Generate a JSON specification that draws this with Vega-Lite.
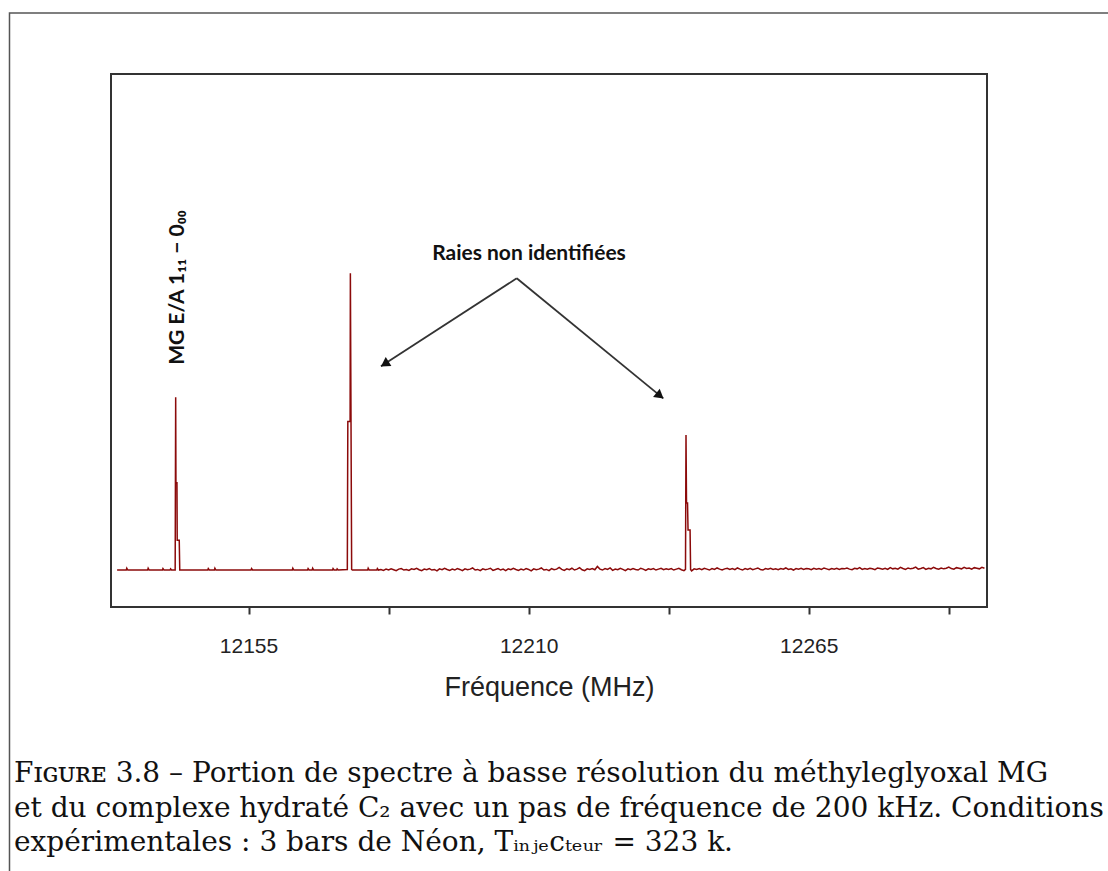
{
  "$schema": "https://vega.github.io/schema/vega-lite/v6.json",
  "width": 876,
  "height": 533,
  "autosize": {"type": "none"},
  "padding": {"left": 111, "top": 74, "right": 121, "bottom": 264},
  "background": "white",
  "config": {"view": {"stroke": "#333", "strokeWidth": 2}},
  "encoding": {
    "x": {
      "field": "f", "type": "quantitative",
      "scale": {"domain": [12128, 12300], "nice": false, "zero": false},
      "axis": {
        "values": [12155, 12182.5, 12210, 12237.5, 12265, 12292.5],
        "labelExpr": "datum.value % 55 === 0 ? format(datum.value, 'd') : ''",
        "domain": false,
        "grid": false,
        "tickSize": 7,
        "tickWidth": 2,
        "tickColor": "#333",
        "labelFont": "Liberation Sans",
        "labelFontSize": 21,
        "labelColor": "#222",
        "labelPadding": 21,
        "title": "Fréquence (MHz)",
        "titleFont": "Liberation Sans",
        "titleFontSize": 27,
        "titleFontWeight": "normal",
        "titleColor": "#222",
        "titlePadding": 18
      }
    },
    "y": {
      "field": "v", "type": "quantitative",
      "scale": {"domain": [-0.124, 1.664], "nice": false, "zero": false},
      "axis": null
    }
  },
  "layer": [
    {
      "data": {"values": [{"f": 12108.07, "f2": 12330, "v": 1.8687, "v2": -1.1}]},
      "mark": {"type": "rect", "fillOpacity": 0, "stroke": "#555", "strokeWidth": 1.5, "clip": false},
      "encoding": {
        "x2": {"field": "f2"},
        "y2": {"field": "v2"}
      }
    },
    {
      "data": {"values": [
      {"f": 12129.2, "v": 0}, {"f": 12131.0, "v": 0}, {"f": 12131.1, "v": 0.006}, {"f": 12131.3, "v": 0},
      {"f": 12135.2, "v": 0}, {"f": 12135.3, "v": 0.006}, {"f": 12135.5, "v": 0},
      {"f": 12138.1, "v": 0}, {"f": 12138.2, "v": 0.005}, {"f": 12138.4, "v": 0},
      {"f": 12139.6, "v": 0}, {"f": 12139.7, "v": 0.004}, {"f": 12139.9, "v": 0},
      {"f": 12140.6, "v": 0}, {"f": 12140.7, "v": 0.58}, {"f": 12140.75, "v": 0.293}, {"f": 12140.95, "v": 0.293},
      {"f": 12141.0, "v": 0.1}, {"f": 12141.4, "v": 0.1}, {"f": 12141.5, "v": 0},
      {"f": 12147.0, "v": 0}, {"f": 12147.1, "v": 0.005}, {"f": 12147.3, "v": 0},
      {"f": 12148.3, "v": 0}, {"f": 12148.4, "v": 0.006}, {"f": 12148.6, "v": 0},
      {"f": 12155.5, "v": 0}, {"f": 12155.6, "v": 0.005}, {"f": 12155.8, "v": 0},
      {"f": 12163.6, "v": 0}, {"f": 12163.7, "v": 0.006}, {"f": 12163.9, "v": 0},
      {"f": 12166.6, "v": 0}, {"f": 12166.7, "v": 0.005}, {"f": 12166.9, "v": 0},
      {"f": 12167.5, "v": 0}, {"f": 12167.6, "v": 0.006}, {"f": 12167.8, "v": 0},
      {"f": 12171.5, "v": 0}, {"f": 12171.6, "v": 0.005}, {"f": 12171.8, "v": 0},
      {"f": 12172.3, "v": 0}, {"f": 12172.4, "v": 0.004}, {"f": 12172.6, "v": 0},
      {"f": 12174.4, "v": 0.002}, {"f": 12174.5, "v": 0.498}, {"f": 12174.95, "v": 0.498}, {"f": 12175.0, "v": 0.996},
      {"f": 12175.25, "v": 0.002}, {"f": 12175.4, "v": 0},
      {"f": 12178.4, "v": 0}, {"f": 12178.5, "v": 0.006}, {"f": 12178.7, "v": 0},
      {"f": 12180.2, "v": 0}, {"f": 12180.3, "v": 0.005}, {"f": 12180.5, "v": 0},
      {"f": 12181.0, "v": 0.002}, {"f": 12181.5, "v": -0.001}, {"f": 12182.0, "v": 0.003}, {"f": 12182.5, "v": 0.0},
      {"f": 12183.0, "v": 0.004}, {"f": 12183.5, "v": 0.001}, {"f": 12184.0, "v": -0.002}, {"f": 12184.5, "v": 0.003},
      {"f": 12185.0, "v": 0.005}, {"f": 12185.5, "v": 0.0}, {"f": 12186.0, "v": 0.002}, {"f": 12186.5, "v": -0.001},
      {"f": 12187.0, "v": 0.004}, {"f": 12187.5, "v": 0.002}, {"f": 12188.0, "v": 0.006}, {"f": 12188.5, "v": 0.001},
      {"f": 12189.0, "v": -0.002}, {"f": 12189.5, "v": 0.003}, {"f": 12190.0, "v": 0.001}, {"f": 12190.5, "v": 0.005},
      {"f": 12191.0, "v": 0.0}, {"f": 12191.5, "v": 0.002}, {"f": 12192.0, "v": -0.003}, {"f": 12192.5, "v": 0.004},
      {"f": 12193.0, "v": 0.001}, {"f": 12193.5, "v": 0.006}, {"f": 12194.0, "v": 0.002}, {"f": 12194.5, "v": -0.001},
      {"f": 12195.0, "v": 0.003}, {"f": 12195.5, "v": 0.0}, {"f": 12196.0, "v": 0.005}, {"f": 12196.5, "v": 0.002},
      {"f": 12197.0, "v": -0.002}, {"f": 12197.5, "v": 0.004}, {"f": 12198.0, "v": 0.001}, {"f": 12198.5, "v": 0.003},
      {"f": 12199.0, "v": 0.007}, {"f": 12199.5, "v": 0.0}, {"f": 12200.0, "v": 0.002}, {"f": 12200.5, "v": -0.002},
      {"f": 12201.0, "v": 0.004}, {"f": 12201.5, "v": 0.001}, {"f": 12202.0, "v": 0.003}, {"f": 12202.5, "v": 0.006},
      {"f": 12203.0, "v": -0.001}, {"f": 12203.5, "v": 0.002}, {"f": 12204.0, "v": 0.005}, {"f": 12204.5, "v": 0.0},
      {"f": 12205.0, "v": 0.003}, {"f": 12205.5, "v": -0.002}, {"f": 12206.0, "v": 0.004}, {"f": 12206.5, "v": 0.001},
      {"f": 12207.0, "v": 0.006}, {"f": 12207.5, "v": 0.002}, {"f": 12208.0, "v": -0.001}, {"f": 12208.5, "v": 0.003},
      {"f": 12209.0, "v": 0.0}, {"f": 12209.5, "v": 0.005}, {"f": 12210.0, "v": 0.002}, {"f": 12210.5, "v": -0.003},
      {"f": 12211.0, "v": 0.004}, {"f": 12211.5, "v": 0.001}, {"f": 12212.0, "v": 0.003}, {"f": 12212.5, "v": 0.007},
      {"f": 12213.0, "v": 0.0}, {"f": 12213.5, "v": 0.002}, {"f": 12214.0, "v": -0.002}, {"f": 12214.5, "v": 0.005},
      {"f": 12215.0, "v": 0.001}, {"f": 12215.5, "v": 0.003}, {"f": 12216.0, "v": 0.009}, {"f": 12216.5, "v": 0.002},
      {"f": 12217.0, "v": -0.001}, {"f": 12217.5, "v": 0.004}, {"f": 12218.0, "v": 0.001}, {"f": 12218.5, "v": 0.006},
      {"f": 12219.0, "v": 0.0}, {"f": 12219.5, "v": 0.003}, {"f": 12220.0, "v": 0.008}, {"f": 12220.5, "v": 0.001},
      {"f": 12221.0, "v": -0.002}, {"f": 12221.5, "v": 0.004}, {"f": 12222.0, "v": 0.002}, {"f": 12222.5, "v": 0.005},
      {"f": 12223.0, "v": 0.001}, {"f": 12223.5, "v": 0.012}, {"f": 12224.0, "v": 0.003}, {"f": 12224.5, "v": 0.0},
      {"f": 12225.0, "v": 0.005}, {"f": 12225.5, "v": 0.002}, {"f": 12226.0, "v": 0.007}, {"f": 12226.5, "v": -0.001},
      {"f": 12227.0, "v": 0.003}, {"f": 12227.5, "v": 0.001}, {"f": 12228.0, "v": 0.006}, {"f": 12228.5, "v": 0.002},
      {"f": 12229.0, "v": -0.002}, {"f": 12229.5, "v": 0.004}, {"f": 12230.0, "v": 0.001}, {"f": 12230.5, "v": 0.005},
      {"f": 12231.0, "v": 0.002}, {"f": 12231.5, "v": 0.0}, {"f": 12232.0, "v": 0.006}, {"f": 12232.5, "v": 0.003},
      {"f": 12233.0, "v": -0.001}, {"f": 12233.5, "v": 0.004}, {"f": 12234.0, "v": 0.002}, {"f": 12234.5, "v": 0.005},
      {"f": 12235.0, "v": 0.0}, {"f": 12235.5, "v": 0.003}, {"f": 12236.0, "v": 0.006}, {"f": 12236.5, "v": 0.001},
      {"f": 12237.0, "v": 0.004}, {"f": 12237.5, "v": 0.002}, {"f": 12238.0, "v": 0.005}, {"f": 12238.5, "v": 0.0},
      {"f": 12239.0, "v": 0.003}, {"f": 12239.5, "v": 0.006}, {"f": 12240.0, "v": 0.001}, {"f": 12240.5, "v": -0.002},
      {"f": 12240.8, "v": 0.002}, {"f": 12240.9, "v": 0.453}, {"f": 12241.0, "v": 0.225}, {"f": 12241.2, "v": 0.225},
      {"f": 12241.3, "v": 0.134}, {"f": 12241.7, "v": 0.134}, {"f": 12241.8, "v": 0.002},
      {"f": 12242.0, "v": -0.003}, {"f": 12242.5, "v": 0.004}, {"f": 12243.0, "v": 0.002}, {"f": 12243.5, "v": 0.005},
      {"f": 12244.0, "v": 0.001}, {"f": 12244.5, "v": 0.006}, {"f": 12245.0, "v": 0.003}, {"f": 12245.5, "v": 0.0},
      {"f": 12246.0, "v": 0.005}, {"f": 12246.5, "v": 0.002}, {"f": 12247.0, "v": 0.007}, {"f": 12247.5, "v": 0.003},
      {"f": 12248.0, "v": 0.0}, {"f": 12248.5, "v": 0.004}, {"f": 12249.0, "v": 0.006}, {"f": 12249.5, "v": 0.002},
      {"f": 12250.0, "v": 0.005}, {"f": 12250.5, "v": 0.001}, {"f": 12251.0, "v": 0.007}, {"f": 12251.5, "v": 0.003},
      {"f": 12252.0, "v": 0.0}, {"f": 12252.5, "v": 0.005}, {"f": 12253.0, "v": 0.002}, {"f": 12253.5, "v": 0.006},
      {"f": 12254.0, "v": 0.001}, {"f": 12254.5, "v": 0.004}, {"f": 12255.0, "v": 0.007}, {"f": 12255.5, "v": 0.002},
      {"f": 12256.0, "v": 0.0}, {"f": 12256.5, "v": 0.005}, {"f": 12257.0, "v": 0.003}, {"f": 12257.5, "v": 0.006},
      {"f": 12258.0, "v": 0.002}, {"f": 12258.5, "v": 0.004}, {"f": 12259.0, "v": 0.001}, {"f": 12259.5, "v": 0.005},
      {"f": 12260.0, "v": 0.003}, {"f": 12260.5, "v": 0.007}, {"f": 12261.0, "v": 0.002}, {"f": 12261.5, "v": 0.004},
      {"f": 12262.0, "v": 0.0}, {"f": 12262.5, "v": 0.005}, {"f": 12263.0, "v": 0.003}, {"f": 12263.5, "v": 0.006},
      {"f": 12264.0, "v": 0.002}, {"f": 12264.5, "v": 0.005}, {"f": 12265.0, "v": 0.004}, {"f": 12265.5, "v": 0.001},
      {"f": 12266.0, "v": 0.006}, {"f": 12266.5, "v": 0.003}, {"f": 12267.0, "v": 0.005}, {"f": 12267.5, "v": 0.002},
      {"f": 12268.0, "v": 0.007}, {"f": 12268.5, "v": 0.004}, {"f": 12269.0, "v": 0.001}, {"f": 12269.5, "v": 0.005},
      {"f": 12270.0, "v": 0.003}, {"f": 12270.5, "v": 0.006}, {"f": 12271.0, "v": 0.002}, {"f": 12271.5, "v": 0.005},
      {"f": 12272.0, "v": 0.004}, {"f": 12272.5, "v": 0.007}, {"f": 12273.0, "v": 0.003}, {"f": 12273.5, "v": 0.001},
      {"f": 12274.0, "v": 0.006}, {"f": 12274.5, "v": 0.004}, {"f": 12275.0, "v": 0.008}, {"f": 12275.5, "v": 0.002},
      {"f": 12276.0, "v": 0.005}, {"f": 12276.5, "v": 0.003}, {"f": 12277.0, "v": 0.006}, {"f": 12277.5, "v": 0.004},
      {"f": 12278.0, "v": 0.001}, {"f": 12278.5, "v": 0.007}, {"f": 12279.0, "v": 0.005}, {"f": 12279.5, "v": 0.003},
      {"f": 12280.0, "v": 0.006}, {"f": 12280.5, "v": 0.002}, {"f": 12281.0, "v": 0.008}, {"f": 12281.5, "v": 0.004},
      {"f": 12282.0, "v": 0.006}, {"f": 12282.5, "v": 0.003}, {"f": 12283.0, "v": 0.009}, {"f": 12283.5, "v": 0.005},
      {"f": 12284.0, "v": 0.002}, {"f": 12284.5, "v": 0.007}, {"f": 12285.0, "v": 0.004}, {"f": 12285.5, "v": 0.006},
      {"f": 12286.0, "v": 0.01}, {"f": 12286.5, "v": 0.003}, {"f": 12287.0, "v": 0.005}, {"f": 12287.5, "v": 0.008},
      {"f": 12288.0, "v": 0.002}, {"f": 12288.5, "v": 0.006}, {"f": 12289.0, "v": 0.004}, {"f": 12289.5, "v": 0.009},
      {"f": 12290.0, "v": 0.005}, {"f": 12290.5, "v": 0.003}, {"f": 12291.0, "v": 0.007}, {"f": 12291.5, "v": 0.004},
      {"f": 12292.0, "v": 0.006}, {"f": 12292.5, "v": 0.01}, {"f": 12293.0, "v": 0.005}, {"f": 12293.5, "v": 0.003},
      {"f": 12294.0, "v": 0.008}, {"f": 12294.5, "v": 0.006}, {"f": 12295.0, "v": 0.004}, {"f": 12295.5, "v": 0.009},
      {"f": 12296.0, "v": 0.005}, {"f": 12296.5, "v": 0.007}, {"f": 12297.0, "v": 0.003}, {"f": 12297.5, "v": 0.008},
      {"f": 12298.0, "v": 0.006}, {"f": 12298.5, "v": 0.004}, {"f": 12299.0, "v": 0.009}, {"f": 12299.5, "v": 0.006}
      ]},
      "mark": {"type": "line", "color": "#8B0A0A", "strokeWidth": 1.5},
      "encoding": {}
    },
    {
      "data": {"values": [
        {"f": 12207.66, "v": 0.9786, "f2": 12181.0, "v2": 0.684},
        {"f": 12207.66, "v": 0.9786, "f2": 12236.44, "v2": 0.576}
      ]},
      "mark": {"type": "rule", "color": "#333", "strokeWidth": 1.8},
      "encoding": {
        "x2": {"field": "f2"},
        "y2": {"field": "v2"}
      }
    },
    {
      "data": {"values": [{"f": 12182.0, "v": 0.694}]},
      "mark": {"type": "point", "shape": "triangle", "filled": true, "color": "#111", "size": 110, "opacity": 1, "angle": 237.1},
      "encoding": {}
    },
    {
      "data": {"values": [{"f": 12235.55, "v": 0.588}]},
      "mark": {"type": "point", "shape": "triangle", "filled": true, "color": "#111", "size": 110, "opacity": 1, "angle": 129.3},
      "encoding": {}
    },
    {
      "data": {"values": [{"f": 12210.07, "v": 1.06, "text": "Raies non identifiées"}]},
      "mark": {"type": "text", "font": "Lato", "fontWeight": "bold", "fontSize": 21, "color": "#111", "align": "center", "baseline": "middle"},
      "encoding": {
        "text": {"field": "text"}
      }
    },
    {
      "data": {"values": [{"f": 12141.25, "v": 0.9477, "text": "MG E/A 1₁₁ − 0₀₀"}]},
      "mark": {"type": "text", "font": "Lato", "fontWeight": "bold", "fontSize": 21, "color": "#111", "align": "center", "baseline": "middle", "angle": 270},
      "encoding": {
        "text": {"field": "text"}
      }
    },
    {
      "data": {"values": [
        {"f": 12108.95, "v": -0.711, "text": "Fɪɢᴜʀᴇ 3.8 – Portion de spectre à basse résolution du méthyleglyoxal MG"},
        {"f": 12108.95, "v": -0.827, "text": "et du complexe hydraté C₂ avec un pas de fréquence de 200 kHz. Conditions"},
        {"f": 12108.95, "v": -0.943, "text": "expérimentales : 3 bars de Néon, Tᵢₙⱼₑcₜₑᵤᵣ = 323 k."}
      ]},
      "mark": {"type": "text", "font": "DejaVu Serif", "fontSize": 28, "color": "#111", "align": "left", "baseline": "alphabetic", "clip": false},
      "encoding": {
        "text": {"field": "text"}
      }
    }
  ]
}
